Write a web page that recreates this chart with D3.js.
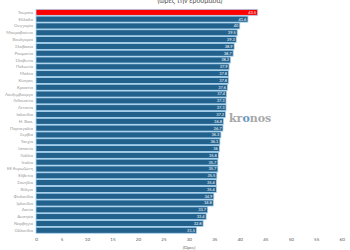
<!DOCTYPE html>
<meta charset="utf-8">
<style>
    body { margin: 0; background: #fff; }
    text { font-family: Lato, "Open Sans", sans-serif; }
</style>
<body>
<div id="chart"></div>
<script src="https://d3js.org/d3.v7.min.js"></script>
<script>
// countries, top to bottom
var countries = ["Τουρκία", "Ελλάδα", "Ουγγαρία", "Μαυροβούνιο", "Βουλγαρία", "Σλοβακία",
    "Ρουμανία", "Σλοβενία", "Πολωνία", "Μάλτα", "Κύπρος", "Κροατία", "Λουξεμβούργο",
    "Λιθουανία", "Λετονία", "Ισλανδία", "Η. Βασ.", "Πορτογαλία", "Σερβία", "Τσεχία",
    "Ισπανία", "Γαλλία", "Ιταλία", "ΕΕ Ευρωζώνη", "Ελβετία", "Σουηδία", "Βέλγιο",
    "Φινλανδία", "Ιρλανδία", "Δανία", "Αυστρία", "Νορβηγία", "Ολλανδία"];
var hours = [43.5, 41.6, 40, 39.5, 39.3, 38.9, 38.7, 38.2, 37.9, 37.8, 37.8, 37.6, 37.4,
    37.3, 37.3, 37.2, 36.8, 36.7, 36.3, 36.1, 36, 35.8, 35.7, 35.7, 35.5, 35.4, 35.4,
    34.9, 34.8, 33.7, 33.4, 32.8, 31.5];
var ticks = [0, 5, 10, 15, 20, 25, 30, 35, 40, 45, 50, 55, 60];
var highlight = "Τουρκία";

var width = 350,
    height = 250;

var svg = d3.select("#chart").append("svg")
    .attr("width", width)
    .attr("height", height);

var x = d3.scaleLinear()
    .domain([0, 60])
    .range([36, 341.7]);

var y = d3.scaleBand()
    .domain(countries)
    .range([9, 233.6])
    .paddingInner(0.12)
    .paddingOuter(0.05);

var data = countries.map(function(c, i) { return { name: c, value: hours[i] }; });

// title, cut off at the top
svg.append("text")
    .attr("x", 190)
    .attr("y", 3)
    .attr("text-anchor", "middle")
    .style("font-size", "7px")
    .style("fill", "#555")
    .text("(ώρες την εβδομάδα)");

svg.selectAll("rect.bar")
    .data(data)
    .enter().append("rect")
    .attr("class", "bar")
    .attr("x", x(0))
    .attr("y", function(d) { return y(d.name); })
    .attr("width", function(d) { return x(d.value) - x(0); })
    .attr("height", y.bandwidth())
    .style("fill", function(d) { return d.name == highlight ? "#ff0000" : "#22618c"; })
    .style("stroke", "#a8d4f0")
    .style("stroke-width", 0.8);

// value labels inside bars
svg.selectAll("text.val")
    .data(data)
    .enter().append("text")
    .attr("class", "val")
    .attr("x", function(d) { return x(d.value) - 1.5; })
    .attr("y", function(d) { return y(d.name) + y.bandwidth() / 2; })
    .attr("dy", "0.35em")
    .attr("text-anchor", "end")
    .style("font-size", "4px")
    .style("fill", "#fff")
    .text(function(d) { return d.value; });

// country labels
svg.selectAll("text.name")
    .data(data)
    .enter().append("text")
    .attr("class", "name")
    .attr("x", 33)
    .attr("y", function(d) { return y(d.name) + y.bandwidth() / 2; })
    .attr("dy", "0.35em")
    .attr("text-anchor", "end")
    .style("font-size", "4.3px")
    .style("fill", "#999")
    .text(function(d) { return d.name; });

// x axis
var xAxis = svg.append("g")
    .attr("transform", "translate(0,236)")
    .call(d3.axisBottom(x).tickValues(ticks).tickSize(0).tickPadding(1.5));
xAxis.select(".domain").remove();
xAxis.selectAll("text")
    .style("font-size", "4.5px")
    .style("fill", "#555");

svg.append("text")
    .attr("x", 189)
    .attr("y", 249)
    .attr("text-anchor", "middle")
    .style("font-size", "4.5px")
    .style("fill", "#666")
    .text("(Ώρες)");

// watermark
var wm = svg.append("text")
    .attr("x", 229)
    .attr("y", 122)
    .style("font-family", "'DejaVu Serif', serif")
    .style("font-weight", "bold")
    .style("font-size", "11px")
    .style("fill", "#9a9a9a")
    .style("opacity", 0.85);
wm.append("tspan").text("kr");
wm.append("tspan").style("fill", "#4a86b8").text("o");
wm.append("tspan").text("nos");
</script>
</body>
</html>
